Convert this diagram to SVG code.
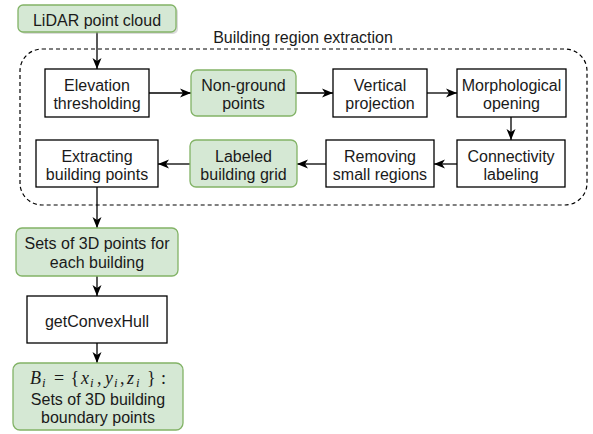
<svg xmlns="http://www.w3.org/2000/svg" width="593" height="434" viewBox="0 0 593 434">
<style>
.box{fill:#ffffff;stroke:#000000;stroke-width:1.3}
.green{fill:#d5e8d4;stroke:#82b366;stroke-width:1.3}
.t{font-family:"Liberation Sans",Arial,sans-serif;font-size:16px;fill:#1a1a1a;text-anchor:middle}
.m{font-family:"Liberation Serif","Times New Roman",serif;font-size:18px;font-style:italic;fill:#1a1a1a}
.n{font-style:normal}
.s{font-size:13px}
.c{fill:none;stroke:#000000;stroke-width:1.3}
</style>
<defs>
<marker id="arr" markerUnits="userSpaceOnUse" markerWidth="12" markerHeight="12" refX="11" refY="5" orient="auto">
<path d="M0,0.5 L11,5 L0,9.5 L3,5 Z" fill="#000000"/>
</marker>
</defs>
<rect x="0" y="0" width="593" height="434" fill="#ffffff"/>
<g id="container">
<rect x="20" y="49" width="567" height="156" rx="22" ry="22" fill="none" stroke="#000000" stroke-width="1.2" stroke-dasharray="4 3"/>
<text class="t" x="303" y="42.5">Building region extraction</text>
</g>
<g id="connectors">
<line class="c" x1="97" y1="32" x2="97" y2="69" marker-end="url(#arr)"/>
<line class="c" x1="149" y1="93" x2="191" y2="93" marker-end="url(#arr)"/>
<line class="c" x1="296" y1="93" x2="333" y2="93" marker-end="url(#arr)"/>
<line class="c" x1="427" y1="93" x2="457" y2="93" marker-end="url(#arr)"/>
<line class="c" x1="511" y1="117" x2="511" y2="140" marker-end="url(#arr)"/>
<line class="c" x1="457" y1="164" x2="434" y2="164" marker-end="url(#arr)"/>
<line class="c" x1="326" y1="164" x2="297" y2="164" marker-end="url(#arr)"/>
<line class="c" x1="190" y1="164" x2="158" y2="164" marker-end="url(#arr)"/>
<line class="c" x1="97" y1="187" x2="97" y2="228" marker-end="url(#arr)"/>
<line class="c" x1="97" y1="276" x2="97" y2="296" marker-end="url(#arr)"/>
<line class="c" x1="97" y1="343" x2="97" y2="363" marker-end="url(#arr)"/>
</g>
<g id="lidar">
<rect x="20" y="7" width="158" height="27" rx="5" fill="#999999" opacity="0.35"/>
<rect class="green" x="18" y="5" width="158" height="27" rx="5"/>
<text class="t" x="97" y="25.5">LiDAR point cloud</text>
</g>
<g id="elevation">
<rect class="box" x="45" y="69" width="104" height="48"/>
<text class="t" x="97" y="90.5">Elevation</text>
<text class="t" x="97" y="108.5">thresholding</text>
</g>
<g id="nonground">
<rect class="green" x="191" y="70" width="105" height="46" rx="6"/>
<text class="t" x="243.5" y="90.5">Non-ground</text>
<text class="t" x="243.5" y="108.5">points</text>
</g>
<g id="vertical">
<rect class="box" x="333" y="69" width="94" height="48"/>
<text class="t" x="380" y="90.5">Vertical</text>
<text class="t" x="380" y="108.5">projection</text>
</g>
<g id="morph">
<rect class="box" x="457" y="69" width="109" height="48"/>
<text class="t" x="511.5" y="90.5">Morphological</text>
<text class="t" x="511.5" y="108.5">opening</text>
</g>
<g id="connectivity">
<rect class="box" x="457" y="140" width="108" height="47"/>
<text class="t" x="511" y="161.5">Connectivity</text>
<text class="t" x="511" y="179.5">labeling</text>
</g>
<g id="removing">
<rect class="box" x="326" y="140" width="108" height="47"/>
<text class="t" x="380" y="161.5">Removing</text>
<text class="t" x="380" y="179.5">small regions</text>
</g>
<g id="labeled">
<rect class="green" x="190" y="140" width="107" height="47" rx="6"/>
<text class="t" x="243.5" y="161.5">Labeled</text>
<text class="t" x="243.5" y="179.5">building grid</text>
</g>
<g id="extracting">
<rect class="box" x="36" y="140" width="122" height="47"/>
<text class="t" x="97" y="161.5">Extracting</text>
<text class="t" x="97" y="179.5">building points</text>
</g>
<g id="sets3d">
<rect class="green" x="16" y="228" width="162" height="48" rx="6"/>
<text class="t" x="97" y="248.5">Sets of 3D points for</text>
<text class="t" x="97" y="267.5">each building</text>
</g>
<g id="convexhull">
<rect class="box" x="27" y="296" width="140" height="47"/>
<text class="t" x="97" y="326.5">getConvexHull</text>
</g>
<g id="boundary">
<rect class="green" x="13" y="363" width="170" height="67" rx="7"/>
<text class="m" y="384"><tspan x="30">B</tspan><tspan class="s" x="42" y="387">i</tspan><tspan class="n" x="54" y="384">=</tspan><tspan class="n" x="70.5">{</tspan><tspan x="81">x</tspan><tspan class="s" x="90" y="387">i</tspan><tspan class="n" x="97" y="384">,</tspan><tspan x="105">y</tspan><tspan class="s" x="114" y="387">i</tspan><tspan class="n" x="120" y="384">,</tspan><tspan x="127">z</tspan><tspan class="s" x="136" y="387">i</tspan><tspan class="n" x="147" y="384">}</tspan><tspan class="n" x="161">:</tspan></text>
<text class="t" x="98" y="405">Sets of 3D building</text>
<text class="t" x="98" y="422.5">boundary points</text>
</g>
</svg>
